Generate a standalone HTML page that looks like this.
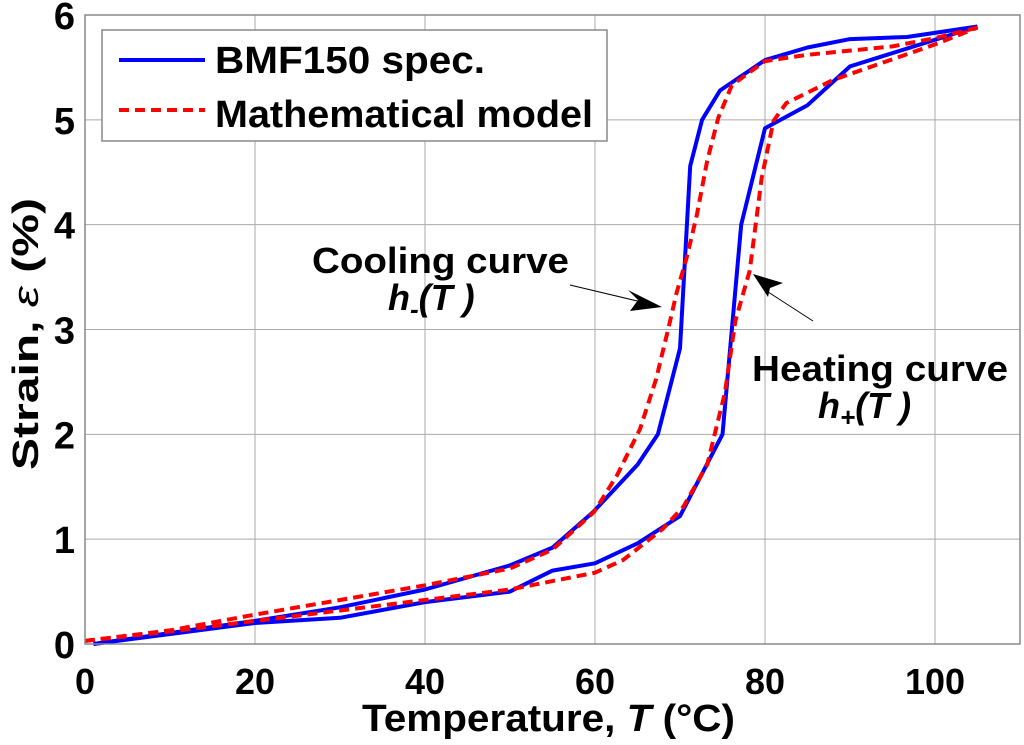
<!DOCTYPE html>
<html><head><meta charset="utf-8"><style>
body{margin:0;background:#fff}
svg text{font-family:"Liberation Sans",sans-serif;font-weight:bold;fill:#000}
</style></head><body>
<svg id="chart" width="1024" height="740" xmlns="http://www.w3.org/2000/svg">
<g id="grid"></g>
<g id="series"></g>
<g id="axes"></g>
</svg>
<script>
const xTicks=[0,20,40,60,80,100];
const yTicks=[0,1,2,3,4,5,6];
const blueHeatT=[1,20,30,40,50,55,60,65,70,75,77.2,80,85,90,105];
const blueHeatE=[0,0.2,0.25,0.4,0.5,0.7,0.77,0.96,1.22,2.0,4.0,4.92,5.14,5.51,5.89];
const blueCoolT=[105,96.7,90,85,80,74.7,72.6,71.2,70,67.4,65,59.8,55,50,40,30,20,1];
const blueCoolE=[5.89,5.79,5.77,5.69,5.57,5.28,5.0,4.56,2.82,2.0,1.71,1.26,0.92,0.75,0.52,0.35,0.22,0];
const redHeatT=[0,10,20,30,40,50,55,60,63.3,68,70.4,73.2,75.3,76.5,78.2,79.6,81,82.5,88,92.6,100,105];
const redHeatE=[0.03,0.12,0.22,0.32,0.42,0.52,0.6,0.68,0.8,1.1,1.31,1.71,2.4,3.08,3.56,4.44,4.99,5.16,5.38,5.51,5.72,5.88];
const redCoolT=[105,100,95,90,85,80,76.1,74.5,73.2,72,70.8,69.6,68.6,67.2,65.3,62.6,59.9,55,50,40,30,20,10,0];
const redCoolE=[5.88,5.78,5.7,5.66,5.62,5.56,5.33,5.02,4.61,4.1,3.69,3.35,3.0,2.53,2.05,1.61,1.26,0.9,0.72,0.56,0.42,0.28,0.13,0.03];
const X0=85,X1=1020,Y0=644,Y1=15,XMAX=110,YMAX=6;
const sx=v=>X0+(X1-X0)*v/XMAX, sy=v=>Y0-(Y0-Y1)*v/YMAX;
const NS="http://www.w3.org/2000/svg";
function mk(tag,attrs,parent){const e=document.createElementNS(NS,tag);for(const k in attrs)e.setAttribute(k,attrs[k]);parent.appendChild(e);return e;}
const grid=document.getElementById('grid'),axes=document.getElementById('axes'),series=document.getElementById('series');
xTicks.forEach(t=>{
 const l=mk('line',{x1:sx(t),x2:sx(t),y1:Y1,y2:Y0,stroke:'#aaa','stroke-width':1},grid);
 
 
 const tx=mk('text',{x:sx(t),y:694,'text-anchor':'middle','font-size':36},axes);
 tx.textContent=t;
 
 
});
yTicks.forEach(t=>{
 const l=mk('line',{x1:X0,x2:X1,y1:sy(t),y2:sy(t),stroke:'#aaa','stroke-width':1},grid);
 
 
 const tx=mk('text',{x:75,y:sy(t)+14,'text-anchor':'end','font-size':38},axes);
 tx.textContent=t;
 
 
});
const frame=mk('rect',{x:X0,y:Y1,width:X1-X0,height:Y0-Y1,fill:'none',stroke:'#888','stroke-width':1.5},axes);


function line(T,E,color,dash,name){
 const d=T.map((t,i)=>(i?'L':'M')+sx(t).toFixed(1)+' '+sy(E[i]).toFixed(1)).join(' ');
 const p=mk('path',{d:d,fill:'none',stroke:color,'stroke-width':4,'stroke-dasharray':dash,'stroke-linejoin':'round'},series);
 
 
}
line(blueHeatT,blueHeatE,'#0000ff','none','bmf150-heating-line');
line(blueCoolT,blueCoolE,'#0000ff','none','bmf150-cooling-line');
line(redHeatT,redHeatE,'#ff0000','10 6','model-heating-line');
line(redCoolT,redCoolE,'#ff0000','10 6','model-cooling-line');
</script>
<svg style="position:absolute;left:0;top:0" width="1024" height="740" xmlns="http://www.w3.org/2000/svg">
<g>
<rect x="102" y="30" width="505" height="111" fill="#fff" stroke="#888" stroke-width="1.5"/>
<line x1="119" y1="60" x2="205" y2="60" stroke="#0000ff" stroke-width="4"/>
<text x="215" y="73" font-size="38" textLength="270" lengthAdjust="spacingAndGlyphs">BMF150 spec.</text>
<line x1="119" y1="110" x2="205" y2="110" stroke="#ff0000" stroke-width="4" stroke-dasharray="10 6"/>
<text x="215" y="127" font-size="38" textLength="378" lengthAdjust="spacingAndGlyphs">Mathematical model</text>
</g>
<text x="312" y="273" font-size="36" textLength="257" lengthAdjust="spacingAndGlyphs">Cooling curve</text>
<text x="388" y="310" font-size="36" font-style="italic">h<tspan font-size="26" dy="8">-</tspan><tspan dy="-8">(T )</tspan></text>
<line x1="570" y1="285" x2="650" y2="304" stroke="#000" stroke-width="1"/>
<polygon points="662,307 628,290 638,300 630,311" fill="#000"/>
<text x="752" y="381" font-size="36" textLength="256" lengthAdjust="spacingAndGlyphs">Heating curve</text>
<text x="818" y="418" font-size="36" font-style="italic">h<tspan font-size="26" dy="8">+</tspan><tspan dy="-8">(T )</tspan></text>
<line x1="813" y1="321" x2="765" y2="290" stroke="#000" stroke-width="1"/>
<polygon points="753,274 783,283 770,288 768,297" fill="#000"/>
<text x="362" y="731" font-size="38" textLength="373" lengthAdjust="spacingAndGlyphs">Temperature, <tspan font-style="italic">T</tspan> (°C)</text>
<text transform="translate(38,470) rotate(-90)" font-size="36" textLength="272" lengthAdjust="spacingAndGlyphs">Strain, <tspan font-style="italic" font-weight="normal">ε</tspan> (%)</text>
</svg>
</body></html>
